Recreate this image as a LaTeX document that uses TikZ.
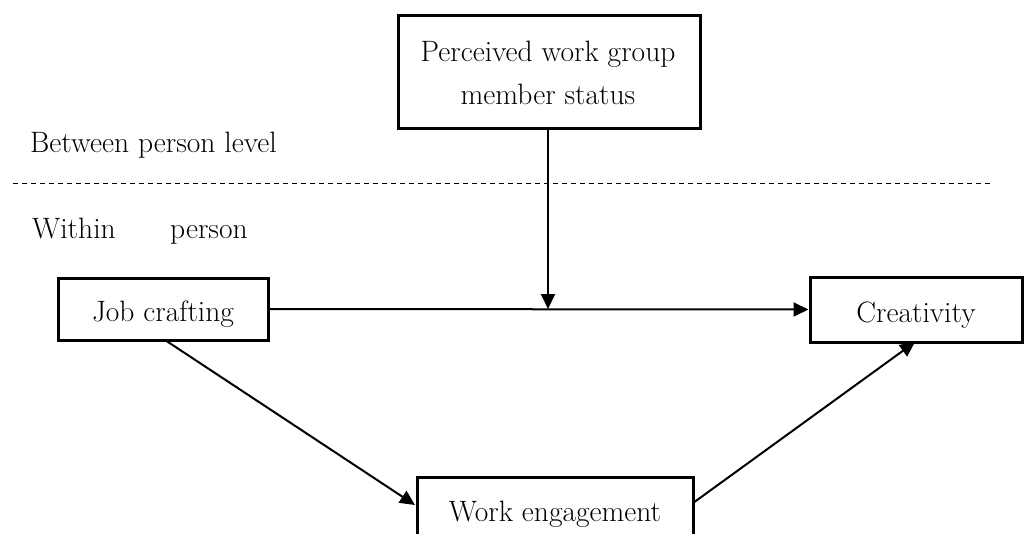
\documentclass[tikz,border=0pt]{standalone}
\usetikzlibrary{arrows.meta}
\begin{document}
\begin{tikzpicture}[x=1pt,y=-1pt,
  box/.style={draw,line width=3pt,inner sep=0pt},
  txt/.style={inner sep=0pt,anchor=base,font=\fontsize{29.5}{35}\selectfont},
  lab/.style={inner sep=0pt,anchor=base west,font=\fontsize{29.5}{35}\selectfont},
  arr/.style={line width=2pt,-{Triangle[length=15pt,width=14pt]}}]
\useasboundingbox (0,0) rectangle (1027,533);
\node[box,minimum width=302pt,minimum height=113pt] (pw) at (549,71.5) {};
\node[txt] (pw1) at (548,61) {Perceived work group};
\node[txt] (pw2) at (548,104) {member status};
\node[box,minimum width=210pt,minimum height=62pt] (jc) at (163,309) {};
\node[txt] (jct) at (163,321) {Job crafting};
\node[box,minimum width=212pt,minimum height=65pt] (cr) at (916,309.5) {};
\node[txt] (crt) at (916,322) {Creativity};
\node[box,minimum width=276pt,minimum height=68pt] (we) at (555,511) {};
\node[txt] (wet) at (555,521) {Work engagement};
\node[lab] (bp) at (30,152) {Between person level};
\node[lab] (wi) at (32,238) {Within};
\node[lab] (pe) at (170,238) {person};
\coordinate (d1) at (13,183);
\coordinate (d2) at (993,183);
\draw[line width=1pt,dash pattern=on 5pt off 4pt] (d1) -- (d2);
\draw[arr] (jc.east) -- (cr.west);
\coordinate (m) at (548,309);
\draw[arr] (pw.south -| m) -- (m);
\coordinate (js) at (165,340);
\coordinate (wl) at (415,505);
\draw[arr] (js) -- (wl);
\coordinate (wr) at (693,503);
\coordinate (cb) at (915,342);
\draw[arr] (wr) -- (cb);
\end{tikzpicture}
\end{document}
